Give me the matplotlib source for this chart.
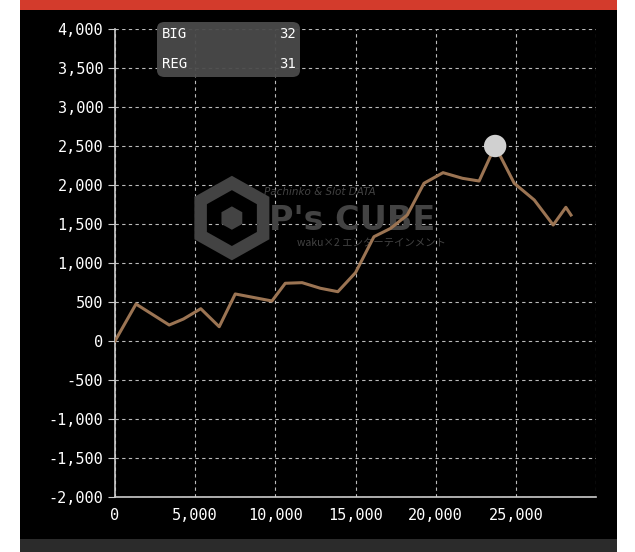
import matplotlib.pyplot as plt
from matplotlib.patches import Rectangle, FancyBboxPatch, RegularPolygon
from matplotlib.ticker import FuncFormatter

# games played vs. difference in medals
games = [0, 1310, 3380, 4270, 5350, 6500, 7500, 9790, 10620, 11670, 12810,
         13900, 15000, 16150, 17190, 18230, 19270, 20460, 21670, 22710,
         23710, 24900, 26150, 27330, 28120, 28440]
medals = [0, 474, 205, 282, 414, 183, 603, 513, 740, 748, 676,
          632, 876, 1337, 1444, 1615, 2022, 2158, 2086, 2051,
          2500, 2022, 1808, 1487, 1714, 1615]
peak_idx = 20
bonus_labels = ["BIG", "REG"]
bonus_counts = [32, 31]

fig = plt.figure(figsize=(6.35, 5.52), dpi=100)
fig.patch.set_facecolor("white")

# dark panel, red header strip and textured footer
fig.add_artist(Rectangle((20 / 635, 0), 597 / 635, 1, transform=fig.transFigure,
                         facecolor="black", edgecolor="none", zorder=0))
fig.add_artist(Rectangle((20 / 635, 1 - 10 / 552), 597 / 635, 10 / 552,
                         transform=fig.transFigure, facecolor="#d33b2c",
                         edgecolor="none", zorder=1))
fig.add_artist(Rectangle((20 / 635, 0), 597 / 635, 13 / 552,
                         transform=fig.transFigure, facecolor="#2b2b2b",
                         edgecolor="none", zorder=1))

ax = fig.add_axes([115 / 635, 1 - 497 / 552, 481 / 635, 468 / 552])
ax.set_facecolor("black")
ax.set_xlim(0, 30000)
ax.set_ylim(-2000, 4000)
ax.set_xticks(range(0, 30001, 5000))
ax.set_yticks(range(-2000, 4001, 500))

fmt = FuncFormatter(lambda v, p: "" if v >= 30000 else f"{int(v):,}")
ax.xaxis.set_major_formatter(fmt)
ax.yaxis.set_major_formatter(FuncFormatter(lambda v, p: f"{int(v):,}"))

ax.grid(True, color="#bbbbbb", linestyle=(0, (3, 3)), linewidth=0.8)
for s in ["top", "right"]:
    ax.spines[s].set_visible(False)
for s in ["left", "bottom"]:
    ax.spines[s].set_color("#cccccc")
    ax.spines[s].set_linewidth(1.2)
ax.tick_params(colors="#cccccc", labelcolor="white", labelsize=11, length=5)
ax.tick_params(axis="x", length=0, pad=8)
for lab in ax.get_xticklabels() + ax.get_yticklabels():
    lab.set_family("DejaVu Sans Mono")

# watermark (sits over the grid, under the line)
wm = "#434343"
ax.add_patch(RegularPolygon((0.243, 0.596), 6, radius=0.075,
                            orientation=0, transform=ax.transAxes,
                            facecolor="none", edgecolor=wm, linewidth=9, zorder=2))
ax.add_patch(RegularPolygon((0.243, 0.596), 6, radius=0.025,
                            orientation=0, transform=ax.transAxes,
                            facecolor=wm, edgecolor="none", zorder=2))
ax.text(0.493, 0.590, "P's CUBE", transform=ax.transAxes, fontsize=24,
        fontweight="bold", color=wm, ha="center", va="center", zorder=2)
ax.text(0.426, 0.652, "Pachinko & Slot DATA", transform=ax.transAxes,
        fontsize=7.5, color=wm, ha="center", va="center", zorder=2,
        style="italic")
ax.text(0.534, 0.541, "waku×2 エンターテインメント", transform=ax.transAxes,
        fontsize=7.5, color=wm, ha="center", va="center", zorder=2,
        family=["Noto Sans CJK JP", "DejaVu Sans"])

ax.plot(games, medals, color="#9b7453", linewidth=2.2, zorder=3)
ax.scatter([games[peak_idx]], [medals[peak_idx]], s=260, color="#d0d0d0",
           zorder=4, edgecolors="none")

# bonus count box
box = FancyBboxPatch((157 / 635, 1 - 77 / 552), 143 / 635, 55 / 552,
                     boxstyle="round,pad=0,rounding_size=0.012",
                     transform=fig.transFigure, facecolor="#4b4b4b",
                     edgecolor="none", alpha=0.95, zorder=5)
fig.add_artist(box)
for i, (lab, cnt) in enumerate(zip(bonus_labels, bonus_counts)):
    y = 1 - (34 + i * 30) / 552
    fig.text(162 / 635, y, lab, color="white", fontsize=10, va="center",
             family="DejaVu Sans Mono", zorder=6)
    fig.text(296 / 635, y, str(cnt), color="white", fontsize=10, va="center",
             ha="right", family="DejaVu Sans Mono", zorder=6)

fig.savefig("out.png", dpi=100, facecolor=fig.get_facecolor())
